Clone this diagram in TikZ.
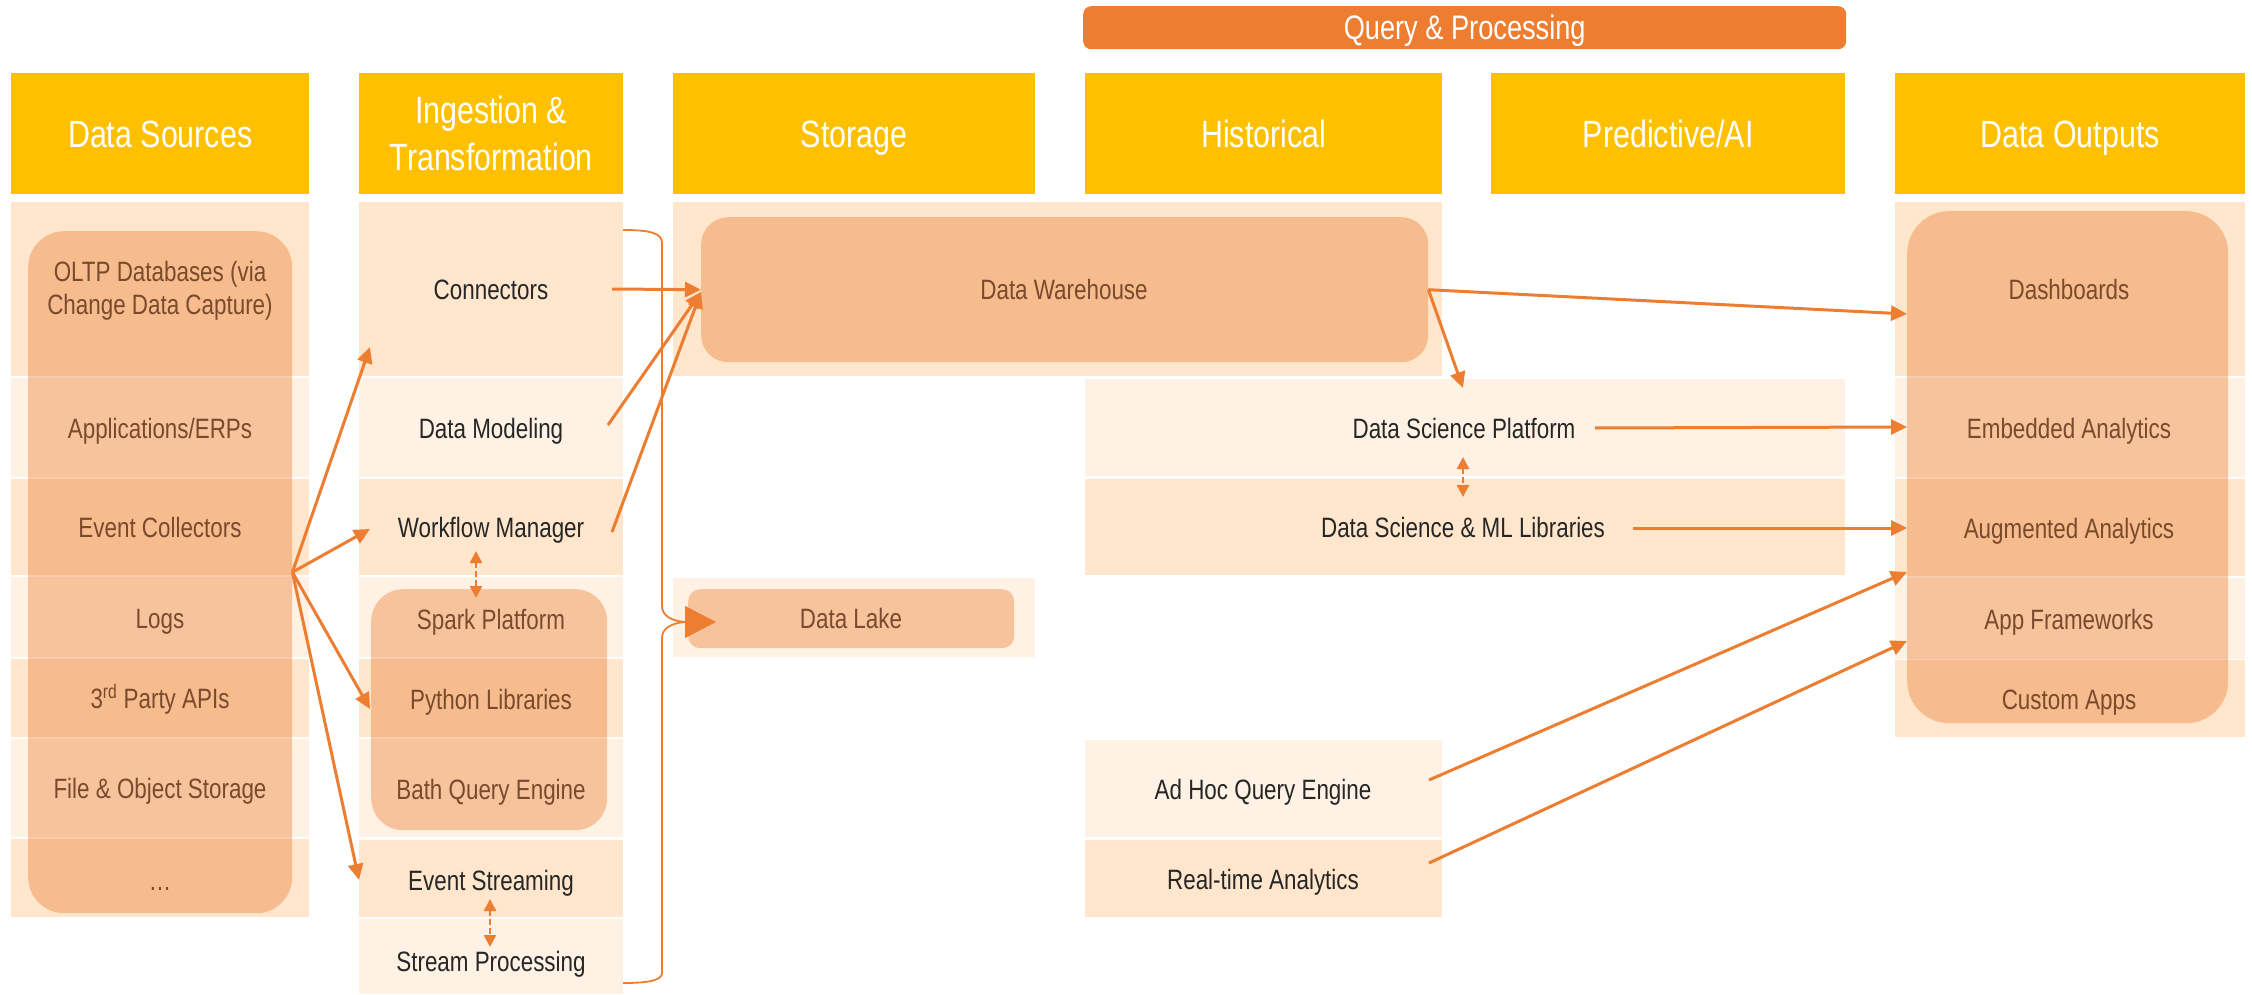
\documentclass[tikz,border=0pt]{standalone}
\usepackage{fontspec}
\setmainfont{Liberation Sans}[FakeStretch=0.8]
\usetikzlibrary{arrows.meta,calc}
\definecolor{gold}{HTML}{FFC000}
\definecolor{accent}{HTML}{ED7D31}
\definecolor{peach}{HTML}{FFE6CC}
\definecolor{cream}{HTML}{FFF2E5}
\definecolor{ink}{HTML}{262626}
\definecolor{rust}{RGB}{122,74,44}
\newcommand\cellfill[5]{\fill[#1] (#2,#3) rectangle (#4,#5);}
\begin{document}
\begin{tikzpicture}[x=1pt,y=-1pt,
  hdrbase/.style={fill=gold, text=white, font=\fontsize{38}{47}\selectfont, align=center, inner sep=0pt, anchor=north west, minimum height=121pt},
  hdr/.style={hdrbase, text height=28pt, text depth=0pt},
  lblbase/.style={text=ink, font=\fontsize{28}{33}\selectfont, align=center, inner sep=1pt},
  lbl/.style={lblbase, text height=20pt, text depth=0pt},
  blbl/.style={lbl, text=rust},
  bubble/.style={fill=accent, fill opacity=0.4, draw=none, anchor=north west, inner sep=0pt},
  flow/.style={draw=accent, line width=3pt, -{Triangle[length=16pt,width=15pt]}},
  dflow/.style={draw=accent, line width=2.5pt, dash pattern=on 6pt off 3pt, {Triangle[length=12pt,width=12pt]}-{Triangle[length=12pt,width=12pt]}}
]
\useasboundingbox (0,0) rectangle (2252,995);

% ---------- top banner and column headers ----------
\node[fill=accent, rounded corners=8pt, anchor=north west, minimum width=763pt, minimum height=43pt, inner sep=0pt,
      text height=24pt, text depth=0pt,
      text=white, font=\fontsize{34}{38}\selectfont] (qp) at (1083,6) {Query \& Processing};
\node[hdr, minimum width=298pt] (hSrc) at (11,73) {Data Sources};
\node[hdrbase, minimum width=264pt] (hIng) at (359,73) {Ingestion \&\\Transformation};
\node[hdr, minimum width=362pt] (hSto) at (673,73) {Storage};
\node[hdr, minimum width=357pt] (hHis) at (1085,73) {Historical};
\node[hdr, minimum width=354pt] (hPre) at (1491,73) {Predictive/AI};
\node[hdr, minimum width=350pt] (hOut) at (1895,73) {Data Outputs};

% ---------- row bands ----------
% data sources
\cellfill{peach}{11}{202}{309}{376}
\cellfill{cream}{11}{378}{309}{477}
\cellfill{peach}{11}{479}{309}{575}
\cellfill{cream}{11}{577}{309}{657}
\cellfill{peach}{11}{659}{309}{737}
\cellfill{cream}{11}{739}{309}{837}
\cellfill{peach}{11}{839}{309}{917}
% ingestion & transformation
\cellfill{peach}{359}{202}{623}{376}
\cellfill{cream}{359}{378}{623}{477}
\cellfill{peach}{359}{479}{623}{575}
\cellfill{cream}{359}{577}{623}{657}
\cellfill{peach}{359}{659}{623}{737}
\cellfill{cream}{359}{739}{623}{837}
\cellfill{peach}{359}{840}{623}{917}
\cellfill{cream}{359}{919}{623}{994}
% storage / historical
\cellfill{peach}{673}{202}{1442}{376}
\cellfill{cream}{673}{578}{1035}{657}
\cellfill{cream}{1085}{379}{1845}{476}
\cellfill{peach}{1085}{479}{1845}{575}
\cellfill{cream}{1085}{740}{1442}{837}
\cellfill{peach}{1085}{840}{1442}{917}
% outputs
\cellfill{peach}{1895}{202}{2245}{376}
\cellfill{cream}{1895}{378}{2245}{477}
\cellfill{peach}{1895}{479}{2245}{576}
\cellfill{cream}{1895}{578}{2245}{659}
\cellfill{peach}{1895}{660}{2245}{737}

% ---------- grouping boxes ----------
\node[bubble, rounded corners=36pt, minimum width=264pt, minimum height=682pt] (src) at (28,231) {};
\node[bubble, rounded corners=32pt, minimum width=236pt, minimum height=241pt] (spk) at (371,589) {};
\node[bubble, rounded corners=27pt, minimum width=727pt, minimum height=145pt] (wh) at (701,217) {};
\node[bubble, rounded corners=12pt, minimum width=326pt, minimum height=59pt] (lk) at (688,589) {};
\node[bubble, rounded corners=42pt, minimum width=321pt, minimum height=512pt] (outbox) at (1907,211) {};

% ---------- labels ----------
\node[lblbase, text=rust] (oltp) at (160,291) {OLTP Databases (via\\Change Data Capture)};
\node[blbl] (apps) at (160,428) {Applications/ERPs};
\node[blbl] (evc)  at (160,527) {Event Collectors};
\node[blbl] (logs) at (160,618) {Logs};
\node[blbl] (api)  at (160,698) {3\textsuperscript{rd} Party APIs};
\node[blbl] (file) at (160,788) {File \& Object Storage};
\node[blbl] (more) at (160,880) {…};

\node[lbl] (conn)  at (491,289) {Connectors};
\node[lbl] (model) at (491,428) {Data Modeling};
\node[lbl] (wf)    at (491,527) {Workflow Manager};
\node[blbl] (spark) at (491,619) {Spark Platform};
\node[blbl] (py)    at (491,699) {Python Libraries};
\node[blbl] (bath)  at (491,789) {Bath Query Engine};
\node[lbl] (evs)   at (491,880) {Event Streaming};
\node[lbl] (sp)    at (491,961) {Stream Processing};

\node[blbl] (whl) at (1064,289) {Data Warehouse};
\node[blbl] (lkl) at (851,618) {Data Lake};

\node[lbl] (dsp)  at (1464,428) {Data Science Platform};
\node[lbl] (dsml) at (1463,527) {Data Science \& ML Libraries};
\node[lbl] (adh)  at (1263,789) {Ad Hoc Query Engine};
\node[lbl] (rt)   at (1263,879) {Real-time Analytics};

\node[blbl] (dash) at (2069,289) {Dashboards};
\node[blbl] (emb)  at (2069,428) {Embedded Analytics};
\node[blbl] (aug)  at (2069,528) {Augmented Analytics};
\node[blbl] (appf) at (2069,619) {App Frameworks};
\node[blbl] (cust) at (2069,699) {Custom Apps};

% ---------- connector end points ----------
\coordinate (toConn) at (370,347);
\coordinate (toWf)   at (370,529);
\coordinate (toPy)   at (370,709);
\coordinate (toEvs)  at (359,880);
\coordinate (connOut)  at (612,289);
\coordinate (modelOut) at (608,425);
\coordinate (wfOut)    at (612,532);
\coordinate (whIn)     at (701,292);
\coordinate (toDash) at (1907,314);
\coordinate (toDsp)  at (1463,388);
\coordinate (dspOut) at (1595,428);
\coordinate (toEmb)  at (1907,427);
\coordinate (dsmlOut) at (1633,528);
\coordinate (toAug)  at (1907,528);
\coordinate (adhOut) at (1429,780);
\coordinate (toAugLow) at (1907,572);
\coordinate (rtOut)  at (1429,863);
\coordinate (toApp)  at (1907,641);
\coordinate (braceTop) at (623,230);
\coordinate (braceTip) at (685,622);
\coordinate (braceBot) at (623,983);

% ---------- flows ----------
\draw[flow] (src.east) -- (toConn);
\draw[flow] (src.east) -- (toWf);
\draw[flow] (src.east) -- (toPy);
\draw[flow] (src.east) -- (toEvs);

\draw[flow] (connOut) -- (wh.west);
\draw[flow] (modelOut) -- (whIn);
\draw[flow] (wfOut) -- (whIn);

\draw[flow] (wh.east) -- (toDash);
\draw[flow] (wh.east) -- (toDsp);
\draw[flow] (dspOut) -- (toEmb);
\draw[flow] (dsmlOut) -- (toAug);
\draw[flow] (adhOut) -- (toAugLow);
\draw[flow] (rtOut) -- (toApp);

\draw[dflow] (476,551) -- (476,598);
\draw[dflow] (490,899) -- (490,947);
\draw[dflow] (1463,457) -- (1463,497);

% brace gathering the ingestion column into the data lake
\draw[accent, line width=1.8pt] (braceTop) .. controls (650,230) and (662,233) .. (662,243)
  -- (662,606) .. controls (662,616) and (672,621) .. (braceTip)
  .. controls (672,623) and (662,628) .. (662,638)
  -- (662,973) .. controls (662,980) and (650,983) .. (braceBot);
\draw[draw=accent, line width=1pt, -{Triangle[length=31pt,width=32pt]}] (braceTip) -- (716,622);
\end{tikzpicture}
\end{document}
